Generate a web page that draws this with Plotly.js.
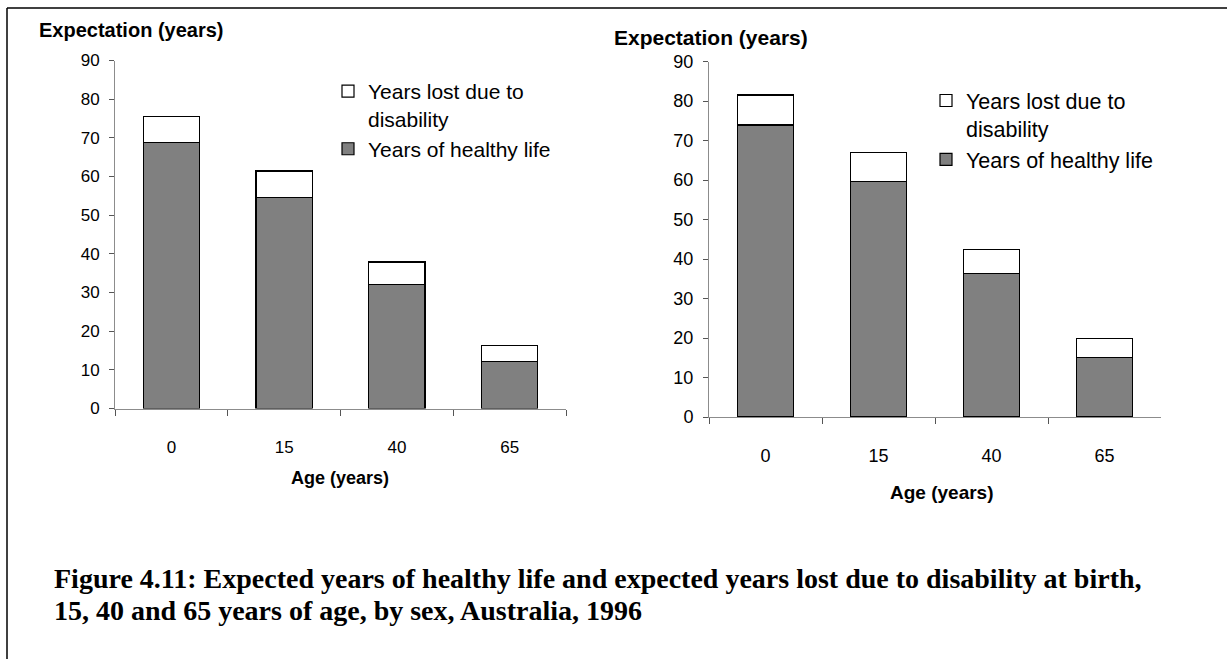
<!DOCTYPE html>
<html>
<head>
<meta charset="utf-8">
<script src="https://cdn.plot.ly/plotly-3.0.1.min.js"></script>
<style>
  html, body { margin: 0; padding: 0; background: #ffffff; }
  #chart { width: 1227px; height: 659px; }
</style>
</head>
<body>
<div id="chart"></div>
<script>
// ---- Data ----
const ages = ['0', '15', '40', '65'];
const maleHealthy = [68.7, 54.6, 32.0, 12.1];
const maleLost = [6.8, 6.8, 5.9, 4.1];
const femaleHealthy = [73.9, 59.6, 36.3, 15.0];
const femaleLost = [7.6, 7.3, 6.2, 4.9];
const seriesNames = ['Years of healthy life', 'Years lost due to<br>disability'];
const yTitle = 'Expectation (years)';
const xTitle = 'Age (years)';
const captionLines = [
  'Figure 4.11: Expected years of healthy life and expected years lost due to disability at birth,',
  '15, 40 and 65 years of age, by sex, Australia, 1996'
];

// ---- Layout helpers (pixel -> paper) ----
const W = 1227, H = 659;
const px = x => x / W;
const py = y => 1 - y / H;

const FONT = 'Liberation Sans, Arial, sans-serif';
const SERIF = 'Liberation Serif, Times New Roman, serif';
const healthyColor = '#808080';
const lostColor = '#ffffff';

function barTrace(x, y, name, color, xa, ya, legend) {
  return {
    type: 'bar', x: x, y: y, name: name,
    xaxis: xa, yaxis: ya, legend: legend,
    width: 0.5,
    marker: { color: color, line: { color: '#000000', width: 1.2 } },
    hoverinfo: 'x+y+name'
  };
}

const data = [
  barTrace(ages, maleHealthy, seriesNames[0], healthyColor, 'x', 'y', 'legend'),
  barTrace(ages, maleLost, seriesNames[1], lostColor, 'x', 'y', 'legend'),
  barTrace(ages, femaleHealthy, seriesNames[0], healthyColor, 'x2', 'y2', 'legend2'),
  barTrace(ages, femaleLost, seriesNames[1], lostColor, 'x2', 'y2', 'legend2')
];

function xAxis(domain, anchor, fsize, standoff) {
  return {
    domain: domain, anchor: anchor, type: 'category', fixedrange: true,
    showline: true, linecolor: '#8c8c8c', linewidth: 1,
    ticks: 'outside', tickson: 'boundaries', ticklen: 6, tickcolor: '#555555', tickwidth: 1,
    showgrid: false, zeroline: false,
    tickfont: { family: FONT, size: fsize, color: '#000' },
    ticklabelstandoff: standoff
  };
}
function yAxis(domain, anchor, fsize) {
  return {
    domain: domain, anchor: anchor, range: [0, 90], dtick: 10, fixedrange: true,
    showline: true, linecolor: '#8c8c8c', linewidth: 1,
    ticks: 'outside', ticklen: 5, tickcolor: '#555555', tickwidth: 1,
    showgrid: false, zeroline: false,
    tickfont: { family: FONT, size: fsize, color: '#000' },
    ticklabelstandoff: 6
  };
}

const legendBase = {
  bgcolor: 'rgba(0,0,0,0)', borderwidth: 0,
  xanchor: 'left', yanchor: 'top',
  traceorder: 'reversed', valign: 'top',
  itemclick: false, itemdoubleclick: false
};

function label(text, x, y, size, anchor, family) {
  return { text: text, xref: 'paper', yref: 'paper', x: px(x), y: py(y),
    xanchor: anchor, yanchor: 'middle', showarrow: false, align: 'left',
    font: { family: family || FONT, size: size, color: '#000' } };
}

const layout = {
  width: W, height: H,
  margin: { l: 0, r: 0, t: 0, b: 0 },
  paper_bgcolor: '#ffffff', plot_bgcolor: '#ffffff',
  barmode: 'stack',
  showlegend: true,
  xaxis: xAxis([px(115), px(566)], 'y', 17, 23),
  yaxis: yAxis([py(408.5), py(60.5)], 'x', 17),
  xaxis2: xAxis([px(709), px(1161)], 'y2', 18, 22),
  yaxis2: yAxis([py(417), py(61.5)], 'x2', 18),
  legend: Object.assign({}, legendBase, { x: px(328), y: py(71),
    font: { family: FONT, size: 21, color: '#000' } }),
  legend2: Object.assign({}, legendBase, { x: px(926), y: py(80),
    font: { family: FONT, size: 21.5, color: '#000' } }),
  annotations: [
    label('<b>' + yTitle + '</b>', 37, 30, 20, 'left'),
    label('<b>' + yTitle + '</b>', 612, 37, 21, 'left'),
    label('<b>' + xTitle + '</b>', 340.5, 478, 18, 'center'),
    label('<b>' + xTitle + '</b>', 942, 493, 19, 'center'),
    label('<b>' + captionLines[0] + '</b>', 52, 578, 28, 'left', SERIF),
    label('<b>' + captionLines[1] + '</b>', 52, 610, 28, 'left', SERIF)
  ],
  shapes: [
    { type: 'line', xref: 'paper', yref: 'paper', x0: px(7), x1: 1.01, y0: py(8), y1: py(8),
      line: { color: '#000', width: 1.5 } },
    { type: 'line', xref: 'paper', yref: 'paper', x0: px(7), x1: px(7), y0: py(8), y1: -0.01,
      line: { color: '#000', width: 1.5 } }
  ]
};

Plotly.newPlot('chart', data, layout, { displayModeBar: false, staticPlot: false, responsive: false });
</script>
</body>
</html>
